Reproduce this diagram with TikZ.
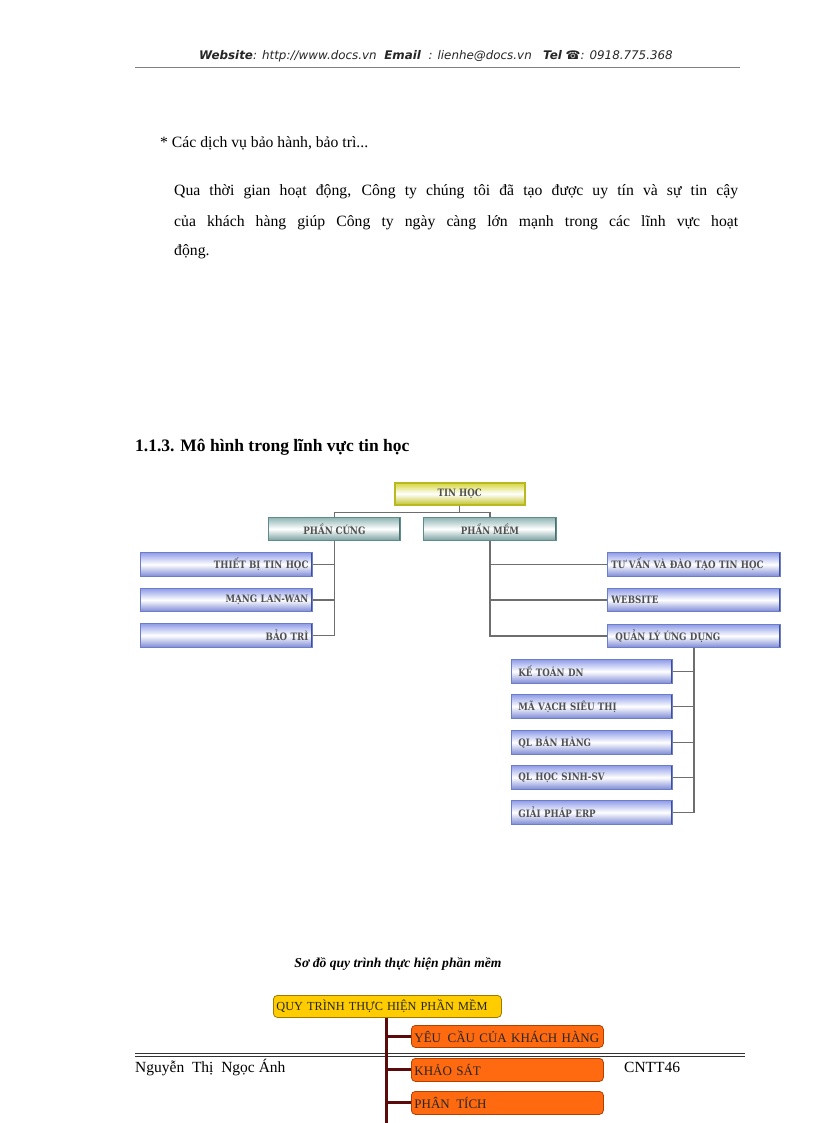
\documentclass[tikz,border=0pt]{standalone}
\usepackage{fontspec}
\setmainfont{Liberation Serif}
\newfontfamily\hdrfont{DejaVu Sans}
\newfontfamily\chartfont{DejaVu Serif}[FakeStretch=0.85]
\usetikzlibrary{calc}
\definecolor{conn}{HTML}{6E6E6E}
\definecolor{bluetop}{HTML}{8E9CE8}
\definecolor{bluebot}{HTML}{7C8AD6}
\definecolor{blueedge}{HTML}{6E7EC6}
\definecolor{bluedark}{HTML}{3E4E9E}
\definecolor{tealtop}{HTML}{8FB3B3}
\definecolor{tealbot}{HTML}{7AA0A0}
\definecolor{tealedge}{HTML}{5E8C8C}
\definecolor{ylwtop}{HTML}{D6D63A}
\definecolor{ylwbot}{HTML}{C4C42C}
\definecolor{ylwedge}{HTML}{B8B820}
\definecolor{gold}{HTML}{FFCC00}
\definecolor{goldedge}{HTML}{A07800}
\definecolor{orng}{HTML}{FF6A10}
\definecolor{orngedge}{HTML}{B04000}
\definecolor{maroon}{HTML}{5A0A0A}
\definecolor{ctext}{HTML}{505050}
\tikzset{
  cbase/.style={draw, line width=0.8pt, inner xsep=4pt, inner ysep=0pt,
    font=\chartfont\bfseries\fontsize{10.2}{12}\selectfont, text=ctext,
    anchor=north west},
  bluebox/.style={cbase, draw=blueedge, top color=bluetop, bottom color=bluebot, middle color=white,
    path picture={\draw[line width=2.5pt, bluedark]
      (path picture bounding box.north east) -- (path picture bounding box.south east);}},
  tealbox/.style={cbase, draw=tealedge, top color=tealtop, bottom color=tealbot, middle color=white,
    path picture={\draw[line width=2.5pt, tealedge!80!black]
      (path picture bounding box.north east) -- (path picture bounding box.south east);}},
  ylwbox/.style={cbase, draw=ylwedge, line width=1.5pt, top color=ylwtop, bottom color=ylwbot, middle color=white},
  lnk/.style={draw=conn, line width=1.2pt},
  qbox/.style={draw, rounded corners=4pt, line width=0.8pt, anchor=north west, inner xsep=3pt, inner ysep=0pt,
    font=\fontsize{13}{15}\selectfont, text=black!85, align=left},
  mlnk/.style={draw=maroon, line width=3pt},
  body/.style={anchor=base west, font=\fontsize{15.7}{18}\selectfont, inner sep=0pt}
}
\begin{document}
\begin{tikzpicture}[x=1pt,y=-1pt]
\useasboundingbox[fill=white] (0,0) rectangle (816,1123);

% header
\node[anchor=base, inner sep=0pt, font=\hdrfont\itshape\fontsize{11.9}{14}\selectfont, text=black!85] (hdr) at (436,60)
  {\textbf{Website}: http://www.docs.vn \ \textbf{Email} \ : lienhe@docs.vn \ \ \textbf{Tel} ☎: 0918.775.368};
\draw[gray, line width=0.8pt] (135,67) -- (740,67);

% body text
\node[body] (svc) at (160,148) {* Các dịch vụ bảo hành, bảo trì...};
\node[body] (p1) at (174,196) {\makebox[564pt][s]{Qua thời gian hoạt động, Công ty chúng tôi đã tạo được uy tín và sự tin cậy}};
\node[body] (p2) at (174,226) {\makebox[564pt][s]{của khách hàng giúp Công ty ngày càng lớn mạnh trong các lĩnh vực hoạt}};
\node[body] (p3) at (174,255) {động.};

\node[body, font=\bfseries\fontsize{17.5}{20}\selectfont] (h113) at (135,451) {1.1.3. Mô hình trong lĩnh vực tin học};

% chart 1
\node[ylwbox, minimum width=130pt, minimum height=22pt] (tin) at (394,482) {TIN HỌC};
\node[tealbox, minimum width=132pt, minimum height=23pt] (cung) at (268,517) {PHẦN CỨNG};
\node[tealbox, minimum width=133pt, minimum height=23pt] (mem) at (423,517) {PHẦN MỀM};

\node[bluebox, text width=164pt, align=right, minimum height=24pt] (tb) at (140,552) {THIẾT BỊ TIN HỌC};
\node[bluebox, text width=164pt, align=right, minimum height=23pt] (mang) at (140,588) {MẠNG LAN-WAN};
\node[bluebox, text width=164pt, align=right, minimum height=24pt] (baotri) at (140,623) {BẢO TRÌ};

\node[bluebox, text width=165pt, align=left, minimum height=24pt] (tuvan) at (607,552) {TƯ VẤN VÀ ĐÀO TẠO TIN HỌC};
\node[bluebox, text width=165pt, align=left, minimum height=23pt] (web) at (607,588) {WEBSITE};
\node[bluebox, text width=165pt, align=left, minimum height=23pt] (qlud) at (607,624) {\hspace{4pt}QUẢN LÝ ỨNG DỤNG};

\node[bluebox, text width=153pt, align=left, minimum height=24pt] (kt) at (511,659) {\hspace{3pt}KẾ TOÁN DN};
\node[bluebox, text width=153pt, align=left, minimum height=24pt] (mv) at (511,694) {\hspace{3pt}MÃ VẠCH SIÊU THỊ};
\node[bluebox, text width=153pt, align=left, minimum height=24pt] (bh) at (511,730) {\hspace{3pt}QL BÁN HÀNG};
\node[bluebox, text width=153pt, align=left, minimum height=24pt] (hs) at (511,765) {\hspace{3pt}QL HỌC SINH-SV};
\node[bluebox, text width=153pt, align=left, minimum height=24pt] (erp) at (511,800) {\hspace{3pt}GIẢI PHÁP ERP};

\draw[lnk] (tin.south) -- ++(0,7) -| (cung.north);
\draw[lnk] (tin.south) -- ++(0,7) -| (mem.north);
\draw[lnk] (cung.south) |- (tb.east);
\draw[lnk] (cung.south) |- (mang.east);
\draw[lnk] (cung.south) |- (baotri.east);
\draw[lnk] (mem.south) |- (tuvan.west);
\draw[lnk] (mem.south) |- (web.west);
\draw[lnk] (mem.south) |- (qlud.west);
\draw[lnk] (qlud.south) |- (kt.east);
\draw[lnk] (qlud.south) |- (mv.east);
\draw[lnk] (qlud.south) |- (bh.east);
\draw[lnk] (qlud.south) |- (hs.east);
\draw[lnk] (qlud.south) |- (erp.east);

% caption
\node[anchor=base, inner sep=0pt, font=\bfseries\itshape\fontsize{13.6}{16}\selectfont] (cap) at (398,967) {Sơ đồ quy trình thực hiện phần mềm};

% footer
\draw[black!80, line width=0.8pt] (135,1053) -- (745,1053);
\draw[black!80, line width=0.8pt] (135,1056.5) -- (745,1056.5);
\node[body, font=\fontsize{15.5}{18}\selectfont] (author) at (135,1072) {Nguyễn \ Thị \ Ngọc Ánh};
\node[body, font=\fontsize{15.5}{18}\selectfont] (cls) at (624,1072) {CNTT46};

% chart 2
\node[qbox, fill=gold, draw=goldedge, text width=222pt, minimum height=22pt, font=\fontsize{12.3}{14}\selectfont] (qt) at (273,995) {\mbox{QUY TRÌNH THỰC HIỆN PHẦN MỀM}};
\node[qbox, fill=orng, draw=orngedge, text width=186pt, minimum height=22pt] (yc) at (411,1025) {YÊU \,CẦU CỦA KHÁCH HÀNG};
\node[qbox, fill=orng, draw=orngedge, text width=186pt, minimum height=23pt] (ks) at (411,1058) {KHẢO SÁT};
\node[qbox, fill=orng, draw=orngedge, text width=186pt, minimum height=23pt] (pt) at (411,1091) {PHÂN \,TÍCH};
\coordinate (vend) at (386,1125);
\draw[mlnk] (qt.south -| vend) -- (vend);
\draw[mlnk] (yc.west -| vend) -- (yc.west);
\draw[mlnk] (ks.west -| vend) -- (ks.west);
\draw[mlnk] (pt.west -| vend) -- (pt.west);
\end{tikzpicture}
\end{document}
